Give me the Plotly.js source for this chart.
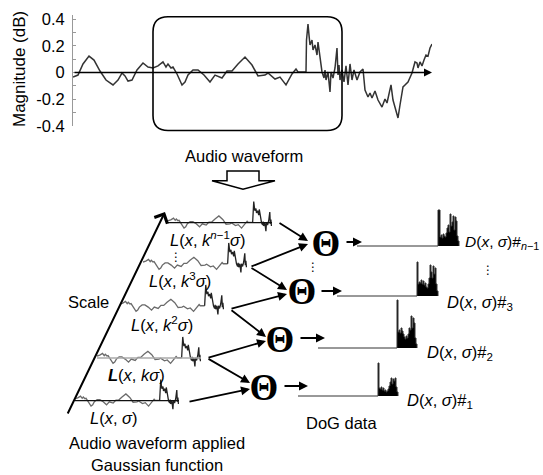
<!DOCTYPE html>
<html><head><meta charset="utf-8">
<script src="https://cdn.plot.ly/plotly-3.0.1.min.js"></script>
<style>html,body{margin:0;padding:0;background:#fff}</style>
</head><body><div id="chart" style="width:543px;height:475px"></div>
<script>
// ---------- DATA ----------
// top audio waveform: sample index and magnitude (dB)
const waveT = [0,5,10,16,21,27,33,40,45,49,52,55,59,64,70,75,80,85,90,93,95,98,100,104,109,112,115,120,125,131,137,142,149,154,159,165,172,179,185,192,195,202,207,213,219,223,225,232,233,233.5,235,236,237,239,240,242,244,245,247,249,251,252,253,255,257,258,260,262,264,265,266,267,269,271,273,275,277,279,281,284,287,290,292,295,297,299,302,305,309,312,314,318,320,323,325,327,330,332,335,339,342,344,345,347,349,351,353,355,357,359];
const waveAmp = [-0.034,-0.019,0.064,0.123,0.093,0.011,-0.056,-0.093,-0.056,-0.004,
 -0.026,-0.064,-0.056,0.019,0.071,0.041,0.034,0.049,0.079,0.041,
 0.064,0.034,0.041,-0.011,-0.093,-0.071,-0.019,0.019,0.019,-0.019,
 -0.071,-0.019,-0.041,0.011,0.011,0.064,0.116,0.056,-0.026,-0.019,
 -0.004,-0.049,-0.034,-0.093,-0.011,0.026,0.004,0.004,0.004,0.243,
 0.363,0.280,0.206,0.243,0.168,0.206,0.131,0.228,0.108,0.004,
 -0.041,0.019,-0.056,0.004,-0.146,0.004,-0.041,0.034,0.183,-0.019,
 0.056,-0.056,0.019,-0.071,0.049,-0.093,0.064,-0.056,0.019,-0.056,
 0.004,0.026,-0.131,-0.183,-0.153,-0.191,-0.138,-0.206,-0.258,-0.198,
 -0.228,-0.093,-0.206,-0.295,-0.340,-0.243,-0.108,-0.093,-0.071,-0.004,
 0.079,0.071,0.034,0.079,0.049,0.093,0.131,0.123,0.183,0.213];
const yTickVals = [-0.4,-0.3,-0.2,-0.1,0,0.1,0.2,0.3,0.4];
const yTickText = ['-0.4','','-0.2','','0','','0.2','','0.4'];
// window of the waveform that is smoothed (sample range)
const windowStart = 80, windowEnd = 268, spikeStart = 233;
// Gaussian-smoothed scale labels (bottom to top)
const scaleLabels = ['<i>L</i>(<i>x</i>, <i>σ</i>)','<b><i>L</i></b>(<i>x</i>, <i>kσ</i>)','<i>L</i>(<i>x</i>, <i>k</i><sup>2</sup><i>σ</i>)','<i>L</i>(<i>x</i>, <i>k</i><sup>3</sup><i>σ</i>)','<i>L</i>(<i>x</i>, <i>k</i><sup><i>n</i>−1</sup><i>σ</i>)'];
// DoG data: flat length and cluster values (#1, #2, #3, #n-1)
const dogLabels = ['<i>D</i>(<i>x</i>, <i>σ</i>)#<sub>1</sub>','<i>D</i>(<i>x</i>, <i>σ</i>)#<sub>2</sub>','<i>D</i>(<i>x</i>, <i>σ</i>)#<sub>3</sub>','<i>D</i>(<i>x</i>, <i>σ</i>)#<sub><i>n</i>−1</sub>'];
const dogFlat = [80,79,80,81];
const dog1 = [33,8,7,9,6,8,5,6,4,5,7,10,14,18,12,17,15,18,9,4,0];
const dog2 = [48,16,18,15,20,17,14,11,9,12,10,14,20,18,32,20,30,25,10,4,0];
const dog3 = [34,12,14,13,16,12,15,11,13,9,8,12,18,31,24,18,30,22,28,12,5,0];
const dogN1 = [36,36,9,11,8,12,10,9,13,18,21,14,32,20,24,30,16,29,25,10,5,0];
const dogValues = [dog1,dog2,dog3,dogN1];

// ---------- LAYOUT HELPERS ----------
const W=543,H=475;
const X=p=>p/W, Y=p=>1-p/H;
const FONT='"Liberation Sans", Arial, sans-serif';
const SERIF='"Liberation Serif", "Times New Roman", serif';
const FS=16.5;
const traces=[];
const layout={width:W,height:H,margin:{l:0,r:0,t:0,b:0},showlegend:false,
  paper_bgcolor:'#fff',plot_bgcolor:'rgba(0,0,0,0)',shapes:[],annotations:[],
  font:{family:FONT,size:FS,color:'#000'}};

// top chart axes
layout.xaxis={domain:[X(73),X(432)],range:[0,359],visible:false,fixedrange:true,anchor:'y'};
layout.yaxis={domain:[Y(126),Y(15)],range:[-0.4,0.43],anchor:'x',showline:true,linecolor:'#999',linewidth:1,
  ticks:'inside',ticklen:3,tickcolor:'#999',tickmode:'array',tickvals:yTickVals,ticktext:yTickText,
  tickfont:{family:FONT,size:FS,color:'#000'},showgrid:false,zeroline:false,ticklabelstandoff:4,fixedrange:true};
traces.push({x:waveT,y:waveAmp,xaxis:'x',yaxis:'y',mode:'lines',line:{color:'#333',width:1.5},hoverinfo:'skip'});
// x axis with arrow
layout.annotations.push({xref:'x',yref:'y',axref:'x',ayref:'y',x:359,y:0,ax:0,ay:0,text:'',showarrow:true,
  arrowhead:2,arrowsize:1,arrowwidth:1.6,arrowcolor:'#000'});
layout.annotations.push({xref:'paper',yref:'paper',x:X(19),y:Y(69),text:'Magnitude (dB)',textangle:-90,showarrow:false,
  xanchor:'center',yanchor:'middle',font:{family:FONT,size:FS+0.5}});

function rrect(x0,y0,x1,y1,r){
  const rx=r/W, ry=r/H; const a=X(x0),b=X(x1),c=Y(y0),d=Y(y1);
  return `M${a+rx},${c} L${b-rx},${c} Q${b},${c} ${b},${c-ry} L${b},${d+ry} Q${b},${d} ${b-rx},${d} L${a+rx},${d} Q${a},${d} ${a},${d+ry} L${a},${c-ry} Q${a},${c} ${a+rx},${c} Z`;
}
layout.shapes.push({type:'path',xref:'paper',yref:'paper',path:rrect(153,16.7,342,130.5,15),line:{color:'#000',width:1.6}});

layout.annotations.push({xref:'paper',yref:'paper',x:X(244),y:Y(156),text:'Audio waveform',showarrow:false,xanchor:'center',yanchor:'middle'});
// hollow block arrow
(function(){
  const pts=[[227,171],[259,171],[259,180.7],[275,180.7],[243,189.3],[212,180.7],[227,180.7]];
  const p='M'+pts.map(q=>X(q[0])+','+Y(q[1])).join(' L')+' Z';
  layout.shapes.push({type:'path',xref:'paper',yref:'paper',path:p,line:{color:'#000',width:1.5},fillcolor:'#fff'});
})();

let axN=2;
function panelAxes(px0,px1,pyTop,pyBot,xr,yr){
  const n=axN++;
  layout['xaxis'+n]={domain:[X(px0),X(px1)],range:xr,visible:false,anchor:'y'+n,fixedrange:true};
  layout['yaxis'+n]={domain:[Y(pyBot),Y(pyTop)],range:yr,visible:false,anchor:'x'+n,fixedrange:true};
  return n;
}

// small smoothed waveforms (bottom to top)
const wavePanels=[{x0:75,base:400.7,bl:'#111'},{x0:97,base:358,bl:'#aaa'},{x0:120,base:306,bl:null},{x0:143,base:264,bl:null},{x0:168,base:222.7,bl:'#111'}];
const labelPos=[[88,418],[106,375],[129,324],[147,280],[168,239]];
const S=58;
const preT=[],preA=[],postT=[],postA=[];
waveT.forEach((t,i)=>{ if(t>=windowStart&&t<=windowEnd){ if(t<=spikeStart){preT.push(t);preA.push(waveAmp[i]);} if(t>=spikeStart){postT.push(t);postA.push(waveAmp[i]);} }});
wavePanels.forEach((p,k)=>{
  const n=panelAxes(p.x0,p.x0+104,p.base-30,p.base+12,[windowStart,windowEnd],[-12/S,30/S]);
  if(p.bl) layout.shapes.push({type:'line',xref:'x'+n,yref:'y'+n,x0:windowStart,x1:windowEnd,y0:0,y1:0,line:{color:p.bl,width:1.3}});
  traces.push({x:preT,y:preA,xaxis:'x'+n,yaxis:'y'+n,mode:'lines',line:{color:'#6a6a6a',width:1.3},hoverinfo:'skip'});
  traces.push({x:postT,y:postA,xaxis:'x'+n,yaxis:'y'+n,mode:'lines',line:{color:'#222',width:1.3},hoverinfo:'skip'});
  layout.annotations.push({xref:'paper',yref:'paper',x:X(labelPos[k][0]),y:Y(labelPos[k][1]),text:scaleLabels[k],showarrow:false,xanchor:'left',yanchor:'middle'});
});
layout.annotations.push({xref:'paper',yref:'paper',x:X(176),y:Y(257),text:'⋮',showarrow:false,xanchor:'center',yanchor:'middle',font:{family:'DejaVu Sans',size:12}});

// Scale arrow
layout.annotations.push({xref:'paper',yref:'paper',x:X(165),y:Y(212),ax:67-165,ay:415-212,text:'',showarrow:true,arrowhead:4,arrowsize:1.4,arrowwidth:2,arrowcolor:'#000'});
layout.annotations.push({xref:'paper',yref:'paper',x:X(88),y:Y(302),text:'Scale',showarrow:false,xanchor:'center',yanchor:'middle'});
layout.annotations.push({xref:'paper',yref:'paper',x:X(157),y:Y(443),text:'Audio waveform applied',showarrow:false,xanchor:'center',yanchor:'middle'});
layout.annotations.push({xref:'paper',yref:'paper',x:X(157),y:Y(465),text:'Gaussian function',showarrow:false,xanchor:'center',yanchor:'middle'});

// Theta operators (bottom to top)
const thetaPos=[[264,387],[280,339],[302,291],[326,243]];
thetaPos.forEach(p=>layout.annotations.push({xref:'paper',yref:'paper',x:X(p[0]),y:Y(p[1]),text:'<b>Θ</b>',showarrow:false,xanchor:'center',yanchor:'middle',height:30,width:30,font:{family:SERIF,size:37}}));
layout.annotations.push({xref:'paper',yref:'paper',x:X(313),y:Y(267),text:'⋮',showarrow:false,xanchor:'center',yanchor:'middle',font:{family:'DejaVu Sans',size:12}});

const arrows=[[[278,222],[308,241]],[[250,267],[308,244]],[[250,267],[287,290]],[[230,309],[287,294]],[[230,309],[266,337]],[[207,358],[266,341]],[[207,358],[250,383]],[[188,402],[250,389]],
  [[345,242],[362,242]],[[320,291],[342,291]],[[299,338],[325,338]],[[283,386],[308,386]]];
arrows.forEach(a=>layout.annotations.push({xref:'paper',yref:'paper',x:X(a[1][0]),y:Y(a[1][1]),ax:a[0][0]-a[1][0],ay:a[0][1]-a[1][1],text:'',showarrow:true,arrowhead:2,arrowsize:1,arrowwidth:1.8,arrowcolor:'#000'}));

// DoG panels (bottom to top)
const dogPanels=[{x0:298,base:396},{x0:318,base:348},{x0:337,base:296},{x0:357,base:246}];
const dogLabelPos=[[405,401],[425,353],[445,303],[463,242]];
dogPanels.forEach((p,k)=>{
  const vals=dogValues[k], L=dogFlat[k];
  const n=panelAxes(p.x0,p.x0+104,p.base-52,p.base+3,[0,104],[-3,52]);
  const xs=[0,L], ys=[0,0];
  vals.forEach((v,i)=>{xs.push(L+i);ys.push(v);});
  traces.push({x:xs,y:ys,xaxis:'x'+n,yaxis:'y'+n,mode:'lines',line:{color:'#333',width:1,shape:'hv'},fill:'tozeroy',fillcolor:'#000',hoverinfo:'skip'});
  layout.annotations.push({xref:'paper',yref:'paper',x:X(dogLabelPos[k][0]),y:Y(dogLabelPos[k][1]),text:dogLabels[k],showarrow:false,xanchor:'left',yanchor:'middle',font:{family:FONT,size:(k===3?15.5:FS)}});
});
layout.annotations.push({xref:'paper',yref:'paper',x:X(488),y:Y(270),text:'⋮',showarrow:false,xanchor:'center',yanchor:'middle',font:{family:'DejaVu Sans',size:12}});
layout.annotations.push({xref:'paper',yref:'paper',x:X(342),y:Y(423),text:'DoG data',showarrow:false,xanchor:'center',yanchor:'middle'});

Plotly.newPlot('chart',traces,layout,{staticPlot:true,displayModeBar:false});
</script></body></html>
